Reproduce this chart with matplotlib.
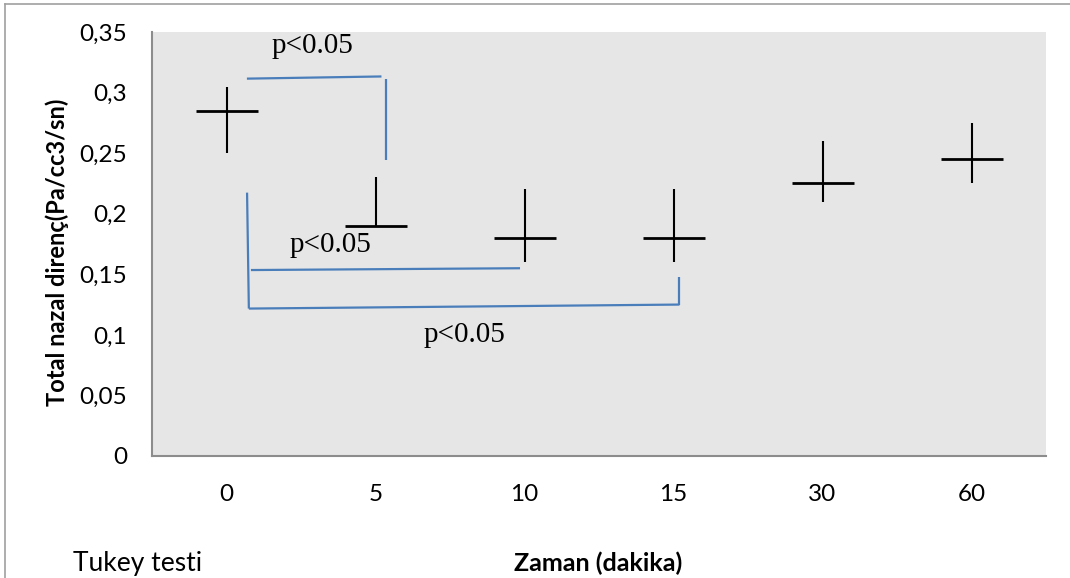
import matplotlib
matplotlib.use("Agg")
import matplotlib.pyplot as plt
from matplotlib.lines import Line2D

# ---- data ----
times = ['0', '5', '10', '15', '30', '60']
means = [0.285, 0.19, 0.18, 0.18, 0.225, 0.245]
upper = [0.305, 0.23, 0.22, 0.22, 0.26, 0.275]
lower = [0.25, 0.19, 0.16, 0.16, 0.21, 0.225]
yticks = [0, 0.05, 0.1, 0.15, 0.2, 0.25, 0.3, 0.35]
ytick_labels = ['0', '0,05', '0,1', '0,15', '0,2', '0,25', '0,3', '0,35']

# significance brackets: list of segments ((x0, y0), (x1, y1)) in data units
bracket_segments = [
    ((0.137, 0.3115), (1.04, 0.3133)),
    ((1.068, 0.3112), (1.068, 0.2446)),
    ((0.138, 0.2174), (0.150, 0.1217)),
    ((0.164, 0.1535), (1.97, 0.1550)),
    ((0.150, 0.1217), (3.04, 0.1250)),
    ((3.04, 0.1480), (3.04, 0.1250)),
]
p_labels = ['p<0.05', 'p<0.05', 'p<0.05']
p_pos = [(0.58, 0.3387), (0.70, 0.1745), (1.60, 0.1002)]

W, H = 1070, 578
fig = plt.figure(figsize=(W / 100, H / 100), dpi=100)
ax = fig.add_axes([152 / W, (H - 456) / H, (1046 - 152) / W, (456 - 32) / H])
ax.set_facecolor('#e6e6e6')

x = list(range(len(times)))
yerr_low = [m - l for m, l in zip(means, lower)]
yerr_up = [u - m for m, u in zip(means, upper)]
ax.errorbar(x, means, yerr=[yerr_low, yerr_up], fmt='none', ecolor='black',
            elinewidth=1.5, capsize=0, zorder=3)
ax.plot(x, means, linestyle='none', marker='_', markersize=44,
        markeredgewidth=2.0, color='black', zorder=3)

for (x0, y0), (x1, y1) in bracket_segments:
    ax.plot([x0, x1], [y0, y1], color='#4a7ebb', linewidth=1.6, zorder=2,
            solid_capstyle='butt')

for lab, (px, py) in zip(p_labels, p_pos):
    ax.text(px, py, lab, ha='center', va='center', fontsize=21,
            family='Liberation Serif', color='black', zorder=4)

ax.set_xlim(-0.5, len(times) - 0.5)
ax.set_ylim(0, 0.35)
ax.set_xticks(x)
ax.set_xticklabels(times, family='Lato', fontsize=17.5)
ax.set_yticks(yticks)
ax.set_yticklabels(ytick_labels, family='Lato', fontsize=17.5)
ax.tick_params(axis='both', length=0)
ax.tick_params(axis='x', pad=20)
ax.tick_params(axis='y', pad=18)

for s in ['top', 'right']:
    ax.spines[s].set_visible(False)
for s in ['left', 'bottom']:
    ax.spines[s].set_color('#8c8c8c')
    ax.spines[s].set_linewidth(1.5)

fig.text(57 / W, 1 - 252 / H, 'Total nazal direnç(Pa/cc3/sn)', rotation=90,
         ha='center', va='center', fontsize=17, fontweight='bold', family='Lato')
fig.text(598 / W, 1 - 563 / H, 'Zaman (dakika)', ha='center', va='center',
         fontsize=18, fontweight='bold', family='Lato')
fig.text(73 / W, 1 - 563 / H, 'Tukey testi', ha='left', va='center',
         fontsize=19, family='Lato')

# outer frame (left and top edges visible)
fig.add_artist(Line2D([5 / W, 5 / W], [0, 1 - 4 / H], color='#a0a0a0', linewidth=1.2))
fig.add_artist(Line2D([5 / W, 1], [1 - 4 / H, 1 - 4 / H], color='#a0a0a0', linewidth=1.2))

fig.savefig('out.png', dpi=100)
